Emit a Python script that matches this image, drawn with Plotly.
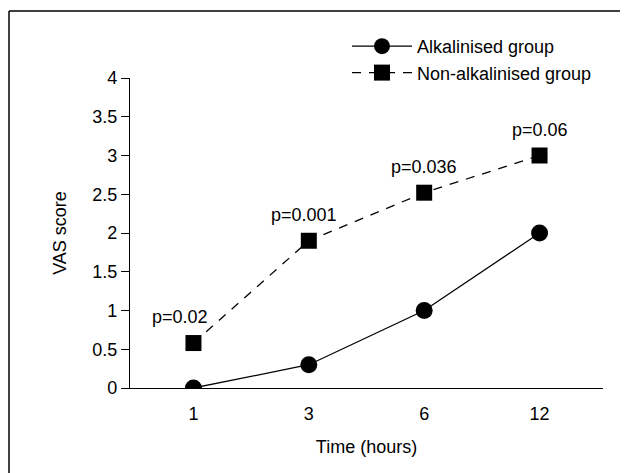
import plotly.graph_objects as go

time_labels = ["1", "3", "6", "12"]
alkalinised = [0.0, 0.3, 1.0, 2.0]
non_alkalinised = [0.58, 1.9, 2.52, 3.0]
p_values = ["p=0.02", "p=0.001", "p=0.036", "p=0.06"]
y_ticks = [0, 0.5, 1, 1.5, 2, 2.5, 3, 3.5, 4]
y_tick_text = ["0", "0.5", "1", "1.5", "2", "2.5", "3", "3.5", "4"]

FONT = "Liberation Sans, Arial, sans-serif"
FS = 18

# page body has an 8px margin; figure is sized to fit the window
W, H = 620, 465
L, R, T, B = 122, 25, 70, 85
PW, PH = W - L - R, H - T - B

fig = go.Figure()
fig.add_trace(go.Scatter(
    x=time_labels, y=alkalinised, mode="lines+markers",
    name="Alkalinised group",
    line=dict(color="black", width=1.3),
    marker=dict(symbol="circle", size=17, color="black"),
))
fig.add_trace(go.Scatter(
    x=time_labels, y=non_alkalinised, mode="lines+markers",
    name="Non-alkalinised group",
    line=dict(color="black", width=1.3, dash="9px,8px"),
    marker=dict(symbol="square", size=16, color="black"),
))

xshifts = [-13, -5, 0, 0]
for i, (yv, txt, xs) in enumerate(zip(non_alkalinised, p_values, xshifts)):
    fig.add_annotation(x=i, y=yv, text=txt, showarrow=False,
                       yshift=26, xshift=xs,
                       font=dict(family=FONT, size=FS, color="black"))

# outer frame (only top and left edges visible in the crop)
x_left = (1 - L) / PW
y_top = (H - B - 3) / PH
fig.add_shape(type="line", xref="paper", yref="paper",
              x0=x_left, x1=1.2, y0=y_top, y1=y_top,
              line=dict(color="black", width=1.5), layer="above")
fig.add_shape(type="line", xref="paper", yref="paper",
              x0=x_left, x1=x_left, y0=-0.5, y1=y_top,
              line=dict(color="black", width=1.5), layer="above")

fig.update_layout(
    width=W, height=H,
    margin=dict(l=L, r=R, t=T, b=B),
    paper_bgcolor="white", plot_bgcolor="white",
    font=dict(family=FONT, size=FS, color="black"),
    showlegend=True,
    legend=dict(x=(339 - L) / PW, y=(H - B - 20) / PH, xanchor="left", yanchor="top",
                bgcolor="rgba(0,0,0,0)", itemwidth=60,
                font=dict(family=FONT, size=FS, color="black"),
                tracegroupgap=0),
)
fig.update_xaxes(
    type="category", range=[-0.55, 3.55],
    showline=True, linecolor="black", linewidth=1.3,
    showgrid=False, zeroline=False,
    ticks="outside", ticklen=9, tickcolor="rgba(0,0,0,0)",
    tickfont=dict(family=FONT, size=FS),
    title=dict(text="Time (hours)", font=dict(family=FONT, size=FS), standoff=17),
)
fig.update_yaxes(
    range=[0, 4], tickvals=y_ticks, ticktext=y_tick_text,
    showline=True, linecolor="black", linewidth=1.3,
    showgrid=False, zeroline=False,
    ticks="outside", ticklen=8, tickcolor="black", tickwidth=1.3,
    tickfont=dict(family=FONT, size=FS),
    title=dict(text="VAS score", font=dict(family=FONT, size=FS), standoff=20),
)

fig.write_html("out.html")
